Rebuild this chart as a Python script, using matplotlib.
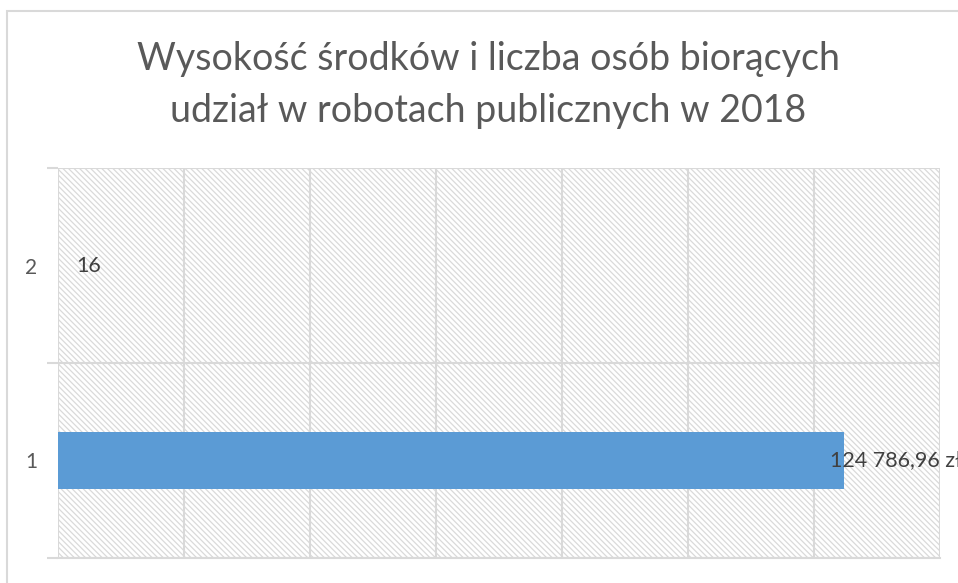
import matplotlib.pyplot as plt
from matplotlib.patches import Rectangle

# chart data
categories = ["1", "2"]
values = [124786.96, 16]
value_labels = ["124 786,96 zł", "16"]
label_offsets = [-10, 13]   # points from the bar end, as in the original
title = "Wysokość środków i liczba osób biorących\nudział w robotach publicznych w 2018"

grid_col = "#d9d9d9"
text_col = "#595959"

plt.rcParams['font.family'] = ['Lato', 'DejaVu Sans']
plt.rcParams['hatch.color'] = "#dadada"
plt.rcParams['hatch.linewidth'] = 0.9

fig = plt.figure(figsize=(9.58, 5.83), dpi=100)

# outer chart border (cut off at right and bottom in the original)
fig.patches.append(Rectangle((7 / 958, -0.1), 1.2, 1.1 - 11 / 583,
                             transform=fig.transFigure, fill=False,
                             edgecolor=grid_col, lw=1.5))

ax = fig.add_axes([58 / 958, 1 - 558 / 583, (940 - 58) / 958, (558 - 168) / 583])

# hatched plot area
ax.add_patch(Rectangle((0, 0), 1, 1, transform=ax.transAxes, facecolor="white",
                       hatch="\\" * 6, lw=0, zorder=0))

ypos = list(range(len(categories)))
bars = ax.barh(ypos, values, height=0.29, color="#5b9bd5", zorder=3)

for bar, lab, off in zip(bars, value_labels, label_offsets):
    ax.annotate(lab, (bar.get_width(), bar.get_y() + bar.get_height() / 2),
                xytext=(off, 0), textcoords="offset points", ha="left", va="center",
                fontsize=15.5, color="#404040", zorder=4, annotation_clip=False)

ax.set_xlim(0, 140000)
ax.set_ylim(-0.5, len(categories) - 0.5)
ax.set_xticks(range(0, 140001, 20000))
ax.set_xticklabels([])
ax.tick_params(axis="x", length=0)
ax.set_yticks(ypos)
ax.set_yticklabels(categories, fontsize=15, color=text_col)
ax.tick_params(axis="y", which="major", length=0, pad=15)
ax.set_yticks([-0.5, 0.5, 1.5], minor=True)
ax.tick_params(axis="y", which="minor", length=8, width=1.5, color=grid_col)
ax.grid(axis="x", color=grid_col, lw=1.5, zorder=1)
ax.grid(axis="y", which="minor", color=grid_col, lw=1.5, zorder=1)
ax.set_axisbelow(True)
for s in ax.spines.values():
    s.set_visible(False)
ax.spines["bottom"].set_visible(True)
ax.spines["bottom"].set_color(grid_col)
ax.spines["bottom"].set_linewidth(1.5)

fig.text(488 / 958, 1 - 85 / 583, title, ha="center", va="center",
         fontsize=27, color=text_col, linespacing=1.55)

fig.savefig("out.png", dpi=100)
